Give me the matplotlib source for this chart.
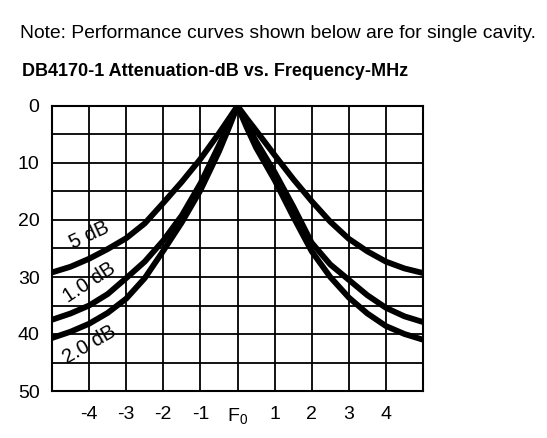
import numpy as np
import matplotlib
matplotlib.use("Agg")
import matplotlib.pyplot as plt

# frequency offset from F0 (MHz)
freq = [-5, -4.5, -4, -3.5, -3, -2.5, -2, -1.5, -1, -0.5, -0.25, 0,
        0.25, 0.5, 1, 1.5, 2, 2.5, 3, 3.5, 4, 4.5, 5]

# attenuation (dB)
att_05 = [29.2, 28.2, 26.8, 25.1, 23.2, 20.6, 17.0, 13.3, 9.3, 4.8, 2.4, 0,
          2.2, 4.3, 8.6, 12.8, 16.7, 20.3, 23.3, 25.5, 27.3, 28.5, 29.3]
att_10 = [37.5, 36.4, 35.0, 33.0, 30.2, 27.3, 23.6, 19.2, 13.6, 6.9, 3.5, 0,
          3.2, 6.2, 11.6, 17.6, 24.0, 27.8, 30.5, 33.2, 35.4, 36.9, 37.9]
att_20 = [40.7, 39.6, 38.2, 36.3, 33.8, 30.2, 25.4, 20.4, 14.8, 8.0, 4.1, 0,
          3.8, 7.3, 13.0, 19.4, 25.5, 30.0, 33.6, 36.4, 38.6, 40.0, 41.0]

x_ticks = [-4, -3, -2, -1, 0, 1, 2, 3, 4]
x_labels = ['-4', '-3', '-2', '-1', 'F$_0$', '1', '2', '3', '4']
y_ticks = [0, 10, 20, 30, 40, 50]

plt.rcParams['font.family'] = ['Liberation Sans', 'DejaVu Sans']
plt.rcParams['mathtext.default'] = 'regular'

fig = plt.figure(figsize=(5.47, 4.38), dpi=100)
ax = fig.add_axes([52/547, 1 - 391/438, 371/547, 285/438])

# grid
for gx in range(-5, 6):
    ax.axvline(gx, color='black', lw=1.3, zorder=1)
for gy in range(0, 51, 5):
    ax.axhline(gy, color='black', lw=1.3, zorder=1)

for att in [att_05, att_10, att_20]:
    ax.plot(freq, att, color='black', lw=4.2, solid_joinstyle='round',
            solid_capstyle='round', zorder=3)

ax.set_xlim(-5, 5)
ax.set_ylim(50, 0)
ax.set_xticks(x_ticks)
ax.set_xticklabels(x_labels)
ax.set_yticks(y_ticks)
ax.tick_params(length=0, labelsize=14, pad=9)
ax.tick_params(axis='x', pad=11)
for s in ax.spines.values():
    s.set_linewidth(1.5)

ax.text(-4.0, 22.6, '5 dB', fontsize=14.5, rotation=25, ha='center', va='center', zorder=4)
ax.text(-4.0, 31.0, '1.0 dB', fontsize=14.5, rotation=33, ha='center', va='center', zorder=4)
ax.text(-4.0, 41.8, '2.0 dB', fontsize=14.5, rotation=30, ha='center', va='center', zorder=4)

fig.text(20/547, 1 - 33/438, 'Note: Performance curves shown below are for single cavity.',
         fontsize=13.9, ha='left', va='center')
fig.text(22/547, 1 - 72/438, 'DB4170-1 Attenuation-dB vs. Frequency-MHz',
         fontsize=13, fontweight='bold', ha='left', va='center')

fig.savefig('out.png', dpi=100)
